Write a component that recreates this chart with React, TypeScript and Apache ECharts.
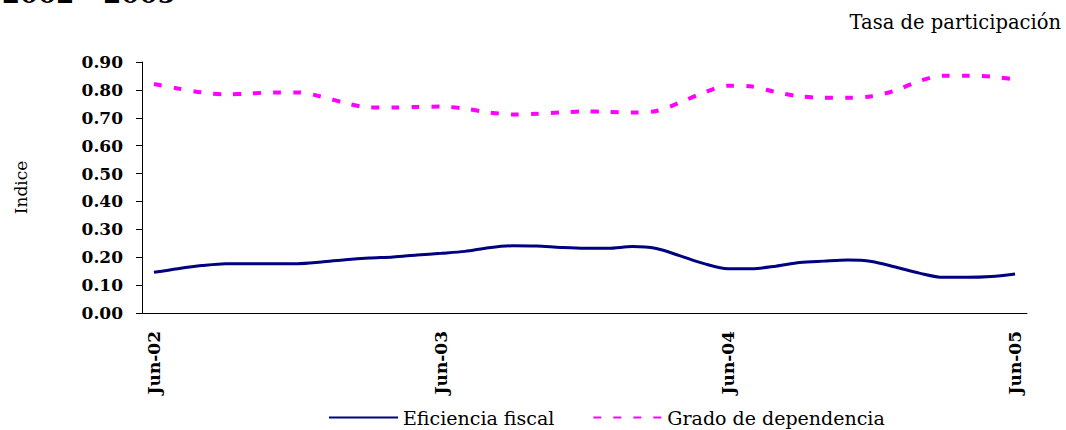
import React, { useEffect, useRef } from "react";
import * as echarts from "echarts";

const months = ["Jun", "Jul", "Ago", "Sep", "Oct", "Nov", "Dic", "Ene", "Feb", "Mar", "Abr", "May"];
const categories: string[] = [];
for (let y = 2; y <= 5; y++) {
  for (let m = 0; m < 12; m++) {
    const yy = m < 7 ? y : y + 1;
    if (y === 5 && m > 0) break;
    categories.push(`${months[m]}-0${yy}`);
  }
}

const eficienciaFiscal = [
  0.146, 0.159, 0.170, 0.177, 0.177, 0.177, 0.177, 0.183, 0.191, 0.197, 0.201, 0.208,
  0.214, 0.221, 0.234, 0.241, 0.240, 0.235, 0.232, 0.232, 0.238, 0.231, 0.205, 0.177,
  0.159, 0.159, 0.168, 0.181, 0.186, 0.190, 0.185, 0.165, 0.143, 0.128, 0.128, 0.131,
  0.140,
];

const gradoDependencia = [
  0.821, 0.805, 0.791, 0.784, 0.787, 0.791, 0.791, 0.776, 0.753, 0.737, 0.737, 0.739,
  0.740, 0.733, 0.719, 0.712, 0.714, 0.719, 0.723, 0.721, 0.719, 0.724, 0.755, 0.791,
  0.815, 0.812, 0.792, 0.777, 0.772, 0.772, 0.777, 0.798, 0.832, 0.851, 0.851, 0.848,
  0.837,
];

const FONT = "DejaVu Serif";

export default function App() {
  const ref = useRef<HTMLDivElement>(null);
  useEffect(() => {
    document.body.style.margin = "0";
    if (!ref.current) return;
    const chart = echarts.init(ref.current, null, { renderer: "svg" });
    chart.setOption({
      animation: false,
      backgroundColor: "#ffffff",
      textStyle: { fontFamily: FONT },
      graphic: [
        {
          type: "text",
          left: 2,
          top: -19,
          style: { text: "2002 - 2005", font: `bold 26px '${FONT}'`, fill: "#000" },
        },
        {
          type: "text",
          right: 5,
          top: 12,
          style: { text: "Tasa de participación", font: `19.5px '${FONT}'`, fill: "#000" },
        },
      ],
      grid: { left: 142, right: 39, top: 62, bottom: 117, containLabel: false },
      legend: {
        top: 403,
        left: 323,
        itemWidth: 69,
        itemHeight: 14,
        itemGap: 38,
        itemStyle: { opacity: 0 },
        textStyle: { fontFamily: FONT, fontSize: 19, color: "#000" },
        data: ["Eficiencia fiscal", "Grado de dependencia"],
      },
      xAxis: {
        type: "category",
        data: categories,
        boundaryGap: true,
        axisLine: { lineStyle: { color: "#000", width: 1 } },
        axisTick: { interval: 11, length: 6, lineStyle: { color: "#000" } },
        axisLabel: {
          interval: 11,
          rotate: 90,
          margin: 18,
          fontFamily: FONT,
          fontSize: 17,
          fontWeight: "bold",
          color: "#000",
        },
        splitLine: { show: false },
      },
      yAxis: {
        type: "value",
        min: 0,
        max: 0.9,
        interval: 0.1,
        name: "Indice",
        nameLocation: "middle",
        nameGap: 113,
        nameRotate: 90,
        nameTextStyle: { fontFamily: FONT, fontSize: 17, color: "#000" },
        axisLine: { show: true, lineStyle: { color: "#000", width: 1 } },
        axisTick: { show: true, length: 6, lineStyle: { color: "#000" } },
        axisLabel: {
          formatter: (v: number) => v.toFixed(2),
          fontFamily: FONT,
          fontSize: 17,
          fontWeight: "bold",
          color: "#000",
          margin: 19,
        },
        splitLine: { show: false },
      },
      series: [
        {
          name: "Eficiencia fiscal",
          type: "line",
          data: eficienciaFiscal,
          smooth: 0.3,
          symbol: "none",
          lineStyle: { color: "#000080", width: 3 },
          itemStyle: { color: "#000080" },
        },
        {
          name: "Grado de dependencia",
          type: "line",
          data: gradoDependencia,
          smooth: 0.3,
          symbol: "none",
          lineStyle: { color: "#FF00FF", width: 4, type: [8, 12] },
          itemStyle: { color: "#FF00FF" },
        },
      ],
    });
    return () => chart.dispose();
  }, []);
  return <div ref={ref} style={{ width: 1066, height: 430 }} />;
}
